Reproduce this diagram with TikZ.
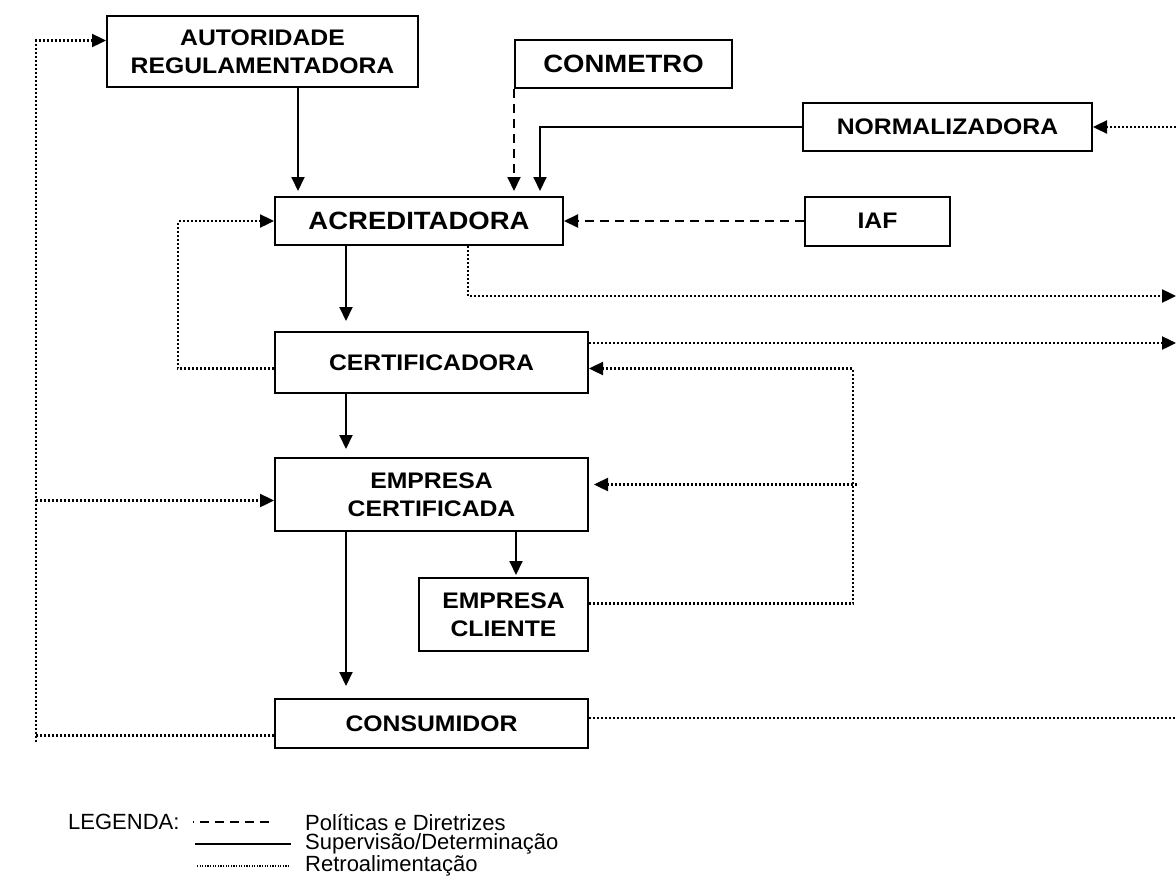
\documentclass[tikz,border=0pt]{standalone}
\usepackage{fontspec}
\setmainfont{Liberation Sans}
\newfontfamily\boxfont{Liberation Sans}[FakeStretch=1.1]
\usetikzlibrary{positioning, arrows.meta}

\begin{document}
\begin{tikzpicture}[x=1pt, y=-1pt,
		box/.style={draw, line width=2pt, fill=white, align=center, inner sep=0pt, font=\boxfont\bfseries\fontsize{22.5}{28}\selectfont},
		bigtext/.style={font=\boxfont\bfseries\fontsize{25}{30}\selectfont},
		wide/.style={minimum width=313pt},
		tip/.style={-{Triangle[length=14pt, width=13pt]}},
		sup/.style={line width=2pt, tip},
		pol/.style={line width=2pt, dash pattern=on 9pt off 6pt, tip},
		retline/.style={line width=2.4pt, dash pattern=on 2pt off 2pt},
		ret/.style={retline, tip},
		legtext/.style={inner sep=0pt, anchor=west, font=\fontsize{22}{24}\selectfont}]
			\useasboundingbox (0,0) rectangle (1176,894);

			\node (acred) [box, bigtext, minimum width=288pt, minimum height=48pt] at (419,221) {ACREDITADORA};
			\node (certif) [box, wide, minimum height=61pt, below=85pt of acred.south west, anchor=north west] {CERTIFICADORA};
			\node (empcert) [box, wide, minimum height=73pt, below=63pt of certif.south west, anchor=north west] {EMPRESA\\CERTIFICADA};
			\node (empcli) [box, minimum width=169pt, minimum height=73pt, below=45pt of empcert.south east, anchor=north east] {EMPRESA\\CLIENTE};
			\node (consum) [box, wide, minimum height=49pt, below=166pt of empcert.south west, anchor=north west] {CONSUMIDOR};

			\node (autor) [box, minimum width=311pt, minimum height=71pt] at (262.5,51.5) {AUTORIDADE\\REGULAMENTADORA};
			\node (conmet) [box, bigtext, minimum width=217pt, minimum height=48pt] at (623.5,64) {CONMETRO};
			\node (normal) [box, minimum width=289pt, minimum height=48pt] at (947.5,127) {NORMALIZADORA};
			\node (iaf) [box, minimum width=145pt, minimum height=49pt, right=240pt of acred] {IAF};

			\coordinate (inN) at (1176,127);
			\coordinate (outA) at (1176,296);
			\coordinate (outB) at (1176,343);
			\coordinate (outC) at (1176,718);

			\draw[sup, shorten >=5pt] ([xshift=24pt]acred.north west |- autor.south) -- ([xshift=24pt]acred.north west);
			\draw[pol, shorten >=5pt] (conmet.south west) -- (conmet.south west |- acred.north);
			\draw[sup, shorten >=5pt] (normal.west) -| ([xshift=-24pt]acred.north east);
			\draw[pol] (iaf) -- (acred);
			\draw[sup, shorten >=10pt] ([xshift=72pt]acred.south west) -- ([xshift=72pt]certif.north west);
			\draw[sup, shorten >=8pt] ([xshift=72pt]certif.south west) -- ([xshift=72pt]empcert.north west);
			\draw[sup, shorten >=12pt] ([xshift=72pt]empcert.south west) -- ([xshift=72pt]consum.north west);
			\draw[sup, shorten >=2pt] ([xshift=-73pt]empcert.south east) -- ([xshift=-73pt]empcli.north east);

			\draw[ret] ([yshift=-6pt]certif.west) -- ++(-96pt,0) |- (acred.west);
			\draw[ret] ([yshift=-12pt]consum.west) -- ++(-238pt,0) coordinate (lc) |- ([yshift=11pt]autor.west);
			\draw[retline] (lc) -- ++(0,-6pt);
			\coordinate (ecw) at ([yshift=-6pt]empcert.west);
			\draw[ret] (ecw -| lc) -- (ecw);

			\draw[ret] ([yshift=11pt]empcli.east) -- ++(264pt,0) coordinate (rc) |- ([yshift=-6pt]certif.east);
			\coordinate (ece) at ([yshift=10pt]empcert.east);
			\draw[ret, shorten >=5pt] ([xshift=4pt]ece -| rc) -- (ece);

			\draw[ret] ([xshift=-96pt]acred.south east) |- (outA);
			\draw[ret] (certif.east |- outB) -- (outB);
			\draw[ret] (inN) -- (normal.east);
			\draw[retline] (consum.east |- outC) -- (outC);

			\node (legend) [legtext] at (68,822) {LEGENDA:};
			\node (leg1) [legtext] at (305,822) {Políticas e Diretrizes};
			\node (leg2) [legtext] at (305,844) {Supervisão/Determinação};
			\node (leg3) [legtext] at (305,866) {Retroalimentação};
			\draw[line width=1.5pt, dash pattern=on 1pt off 6pt on 9pt off 6pt on 9pt off 6pt on 9pt off 6pt on 9pt off 6pt on 9pt off 100pt] ([xshift=-112pt]leg1.west) -- ([xshift=-14pt]leg1.west);
			\draw[line width=2pt] ([xshift=-110pt]leg2.west) -- ([xshift=-14pt]leg2.west);
			\draw[line width=1.4pt, dash pattern=on 1.2pt off 1.4pt] ([xshift=-108pt]leg3.west) -- ([xshift=-15pt]leg3.west);
		\end{tikzpicture}
\end{document}
